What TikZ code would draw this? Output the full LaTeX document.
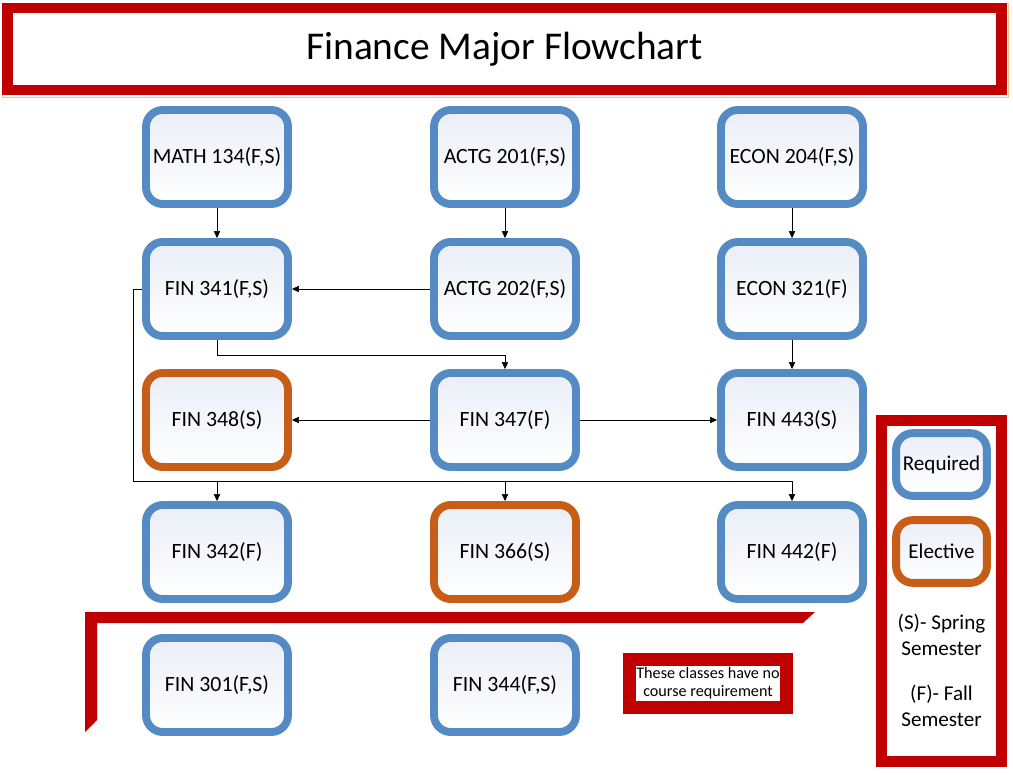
\documentclass[tikz,border=0pt]{standalone}
\usepackage{fontspec}
\setmainfont{Carlito}
\usetikzlibrary{arrows.meta}
\definecolor{reqblue}{RGB}{84,139,194}
\definecolor{elecorange}{RGB}{199,94,24}
\definecolor{framered}{RGB}{192,0,0}
\definecolor{boxtint}{RGB}{234,238,247}
\definecolor{edgeorange}{RGB}{245,200,140}

\begin{document}
\begin{tikzpicture}[x=0.025cm,y=-0.025cm,
    course/.style={rectangle,rounded corners=0.42cm,line width=5.6pt,
      minimum width=3.55cm,minimum height=2.35cm,inner sep=0pt,
      top color=boxtint,bottom color=white,font=\fontsize{15.5}{18}\selectfont},
    required/.style={course,draw=\REQCOLOR},
    elective/.style={course,draw=\ELECCOLOR},
    keybox/.style={course,minimum width=2.27cm,minimum height=1.57cm,font=\fontsize{15}{18}\selectfont},
    link/.style={-{Triangle[length=5pt,width=4.5pt]},thin,black}]

\def\REQCOLOR{reqblue}
\def\ELECCOLOR{elecorange}
\def\FRAMECOLOR{framered}
	\useasboundingbox (0,0) rectangle (1013,775);

	% title
	\draw[edgeorange,thin] (2,3) rectangle (1008,97);
	\node[draw=\FRAMECOLOR,line width=7.8pt,fill=white,minimum width=24.85cm,minimum height=2.05cm,
	  font=\fontsize{28}{32}\selectfont] (title) at (504.5,49) {Finance Major Flowchart};

	% courses
	\node[required] (math134) at (217,157) {MATH 134(F,S)};
	\node[required] (actg201) at (505,157) {ACTG 201(F,S)};
	\node[required] (econ204) at (792,157) {ECON 204(F,S)};
	\node[required] (fin341) at (217,289) {FIN 341(F,S)};
	\node[required] (actg202) at (505,289) {ACTG 202(F,S)};
	\node[required] (econ321) at (792,289) {ECON 321(F)};
	\node[elective] (fin348) at (217,420) {FIN 348(S)};
	\node[required] (fin347) at (505,420) {FIN 347(F)};
	\node[required] (fin443) at (792,420) {FIN 443(S)};
	\node[required] (fin342) at (217,552) {FIN 342(F)};
	\node[elective] (fin366) at (505,552) {FIN 366(S)};
	\node[required] (fin442) at (792,552) {FIN 442(F)};
	\node[required] (fin301) at (217,685) {FIN 301(F,S)};
	\node[required] (fin344) at (505,685) {FIN 344(F,S)};

	% links
	\draw[link] (math134) -- (fin341);
	\draw[link] (actg201) -- (actg202);
	\draw[link] (econ204) -- (econ321);
	\draw[link] (actg202) -- (fin341);
	\draw[link] (fin341.south) -- ++(0,15) -| (fin347.north);
	\draw[link] (econ321) -- (fin443);
	\draw[link] (fin347) -- (fin348);
	\draw[link] (fin347) -- (fin443);
	\coordinate (bus) at (133,481);
	\draw[link] (fin341.west) -| (bus) -| (fin442.north);
	\draw[link] (fin342.north |- bus) -- (fin342.north);
	\draw[link] (fin366.north |- bus) -- (fin366.north);

	% bracket for the free classes
	\fill[\FRAMECOLOR] (85,612) -- (815,612) -- (803,623) -- (97,623) -- (97,720) -- (85,732) -- cycle;
	\node[draw=\FRAMECOLOR,line width=9.2pt,fill=white,minimum width=3.93cm,minimum height=1.2cm,
	  align=center,inner sep=0pt,font=\fontsize{11.5}{13}\selectfont] (note) at (708,683.5)
	  {These classes have no\\course requirement};

	% legend
	\draw[\FRAMECOLOR,line width=7.8pt] (881.5,420.5) rectangle (1001.5,761.5);
	\node[keybox,draw=\REQCOLOR] (keyreq) at (941.5,464.5) {Required};
	\node[keybox,draw=\ELECCOLOR] (keyelec) at (941.5,551.5) {Elective};
	\node[align=center,font=\fontsize{15}{18}\selectfont] (keyspring) at (941.5,635) {(S)- Spring\\Semester};
	\node[align=center,font=\fontsize{15}{18}\selectfont] (keyfall) at (941.5,706) {(F)- Fall\\Semester};

\end{tikzpicture}
\end{document}
